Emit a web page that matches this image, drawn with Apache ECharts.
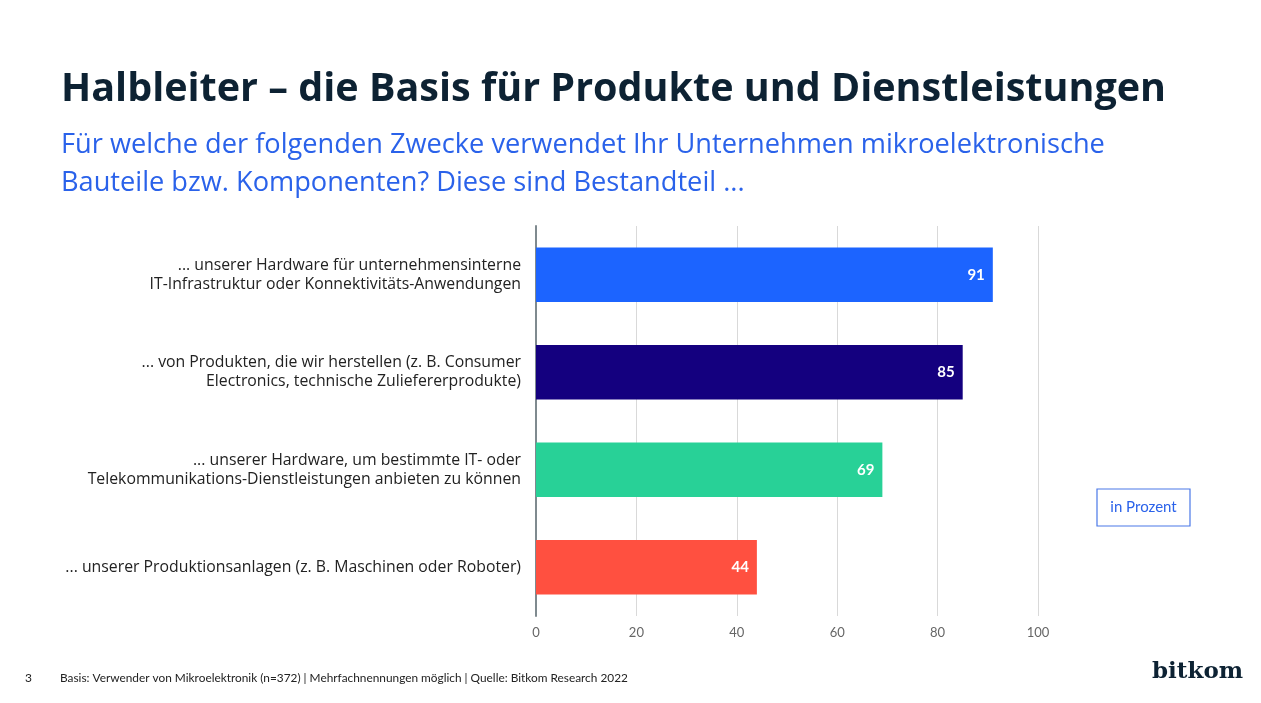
<!DOCTYPE html>
<html>
<head>
<meta charset="utf-8">
<script src="https://cdn.jsdelivr.net/npm/echarts@6/dist/echarts.min.js"></script>
<style>
html,body{margin:0;padding:0;background:#fff;}
#chart{width:1261px;height:703px;}
</style>
</head>
<body>
<div id="chart"></div>
<script>
var categories = [
  '... unserer Hardware für unternehmensinterne\nIT-Infrastruktur oder Konnektivitäts-Anwendungen',
  '... von Produkten, die wir herstellen (z. B. Consumer\nElectronics, technische Zuliefererprodukte)',
  '... unserer Hardware, um bestimmte IT- oder\nTelekommunikations-Dienstleistungen anbieten zu können',
  '... unserer Produktionsanlagen (z. B. Maschinen oder Roboter)'
];
var values = [91, 85, 69, 44];
var barColors = ['#1c64ff', '#14007f', '#28d197', '#ff5040'];
var xTicks = [0, 20, 40, 60, 80, 100];

var FONT = 'Lato, "Noto Sans", sans-serif';
var OS = '"Open Sans", "Noto Sans", sans-serif';
var chart = echarts.init(document.getElementById('chart'));
chart.setOption({
  backgroundColor: '#ffffff',
  animation: false,
  title: [
    {text: 'Halbleiter – die Basis für Produkte und Dienstleistungen', left: 56, top: 65,
     textStyle: {fontFamily: OS, fontSize: 39.5, fontWeight: 'bold', color: '#0d2233'}},
    {text: 'Für welche der folgenden Zwecke verwendet Ihr Unternehmen mikroelektronische\nBauteile bzw. Komponenten? Diese sind Bestandteil ...', left: 56, top: 121,
     textStyle: {fontFamily: OS, fontSize: 27.2, fontWeight: 'normal', color: '#2a62ea', lineHeight: 38}}
  ],
  grid: {left: 536, top: 226, width: 502, height: 390, containLabel: false},
  xAxis: {
    type: 'value', min: 0, max: 100, interval: 20,
    axisLine: {show: false}, axisTick: {show: false},
    splitLine: {show: true, lineStyle: {color: '#d9d9d9', width: 1}},
    axisLabel: {color: '#666', fontSize: 13, fontFamily: FONT, margin: 10,
      formatter: function (v) { return xTicks.indexOf(v) >= 0 ? String(v) : ''; }}
  },
  yAxis: {
    type: 'category', inverse: true, data: categories,
    axisLine: {show: true, lineStyle: {color: '#7f8a8f', width: 2}},
    axisTick: {show: false},
    axisLabel: {color: '#222', fontSize: 15.8, fontFamily: OS, margin: 15, lineHeight: 19, align: 'right'}
  },
  series: [{
    type: 'bar', barWidth: '56%',
    data: values.map(function (v, i) { return {value: v, itemStyle: {color: barColors[i]}}; }),
    label: {show: true, position: 'insideRight', distance: 8, color: '#fff', fontWeight: 'bold', fontSize: 15, fontFamily: FONT}
  }],
  graphic: [
    {type: 'rect', shape: {x: 1097, y: 489, width: 93, height: 37},
     style: {fill: '#fff', stroke: '#4a78e8', lineWidth: 1.2}},
    {type: 'text', x: 1143.5, y: 507.5,
     style: {text: 'in Prozent', fill: '#2a62ea', font: '15px ' + FONT, textAlign: 'center', textVerticalAlign: 'middle'}},
    {type: 'text', x: 25, y: 678,
     style: {text: '3', fill: '#222', font: '12px ' + FONT, textVerticalAlign: 'middle'}},
    {type: 'text', x: 60, y: 678,
     style: {text: 'Basis: Verwender von Mikroelektronik (n=372) | Mehrfachnennungen möglich | Quelle: Bitkom Research 2022', fill: '#222', font: '11.85px ' + FONT, textVerticalAlign: 'middle'}},
    {type: 'text', x: 1152, y: 672,
     style: {text: 'bitkom', fill: '#0d2233', font: 'bold 23px "DejaVu Serif", serif', textVerticalAlign: 'middle'}}
  ]
});
</script>
</body>
</html>
